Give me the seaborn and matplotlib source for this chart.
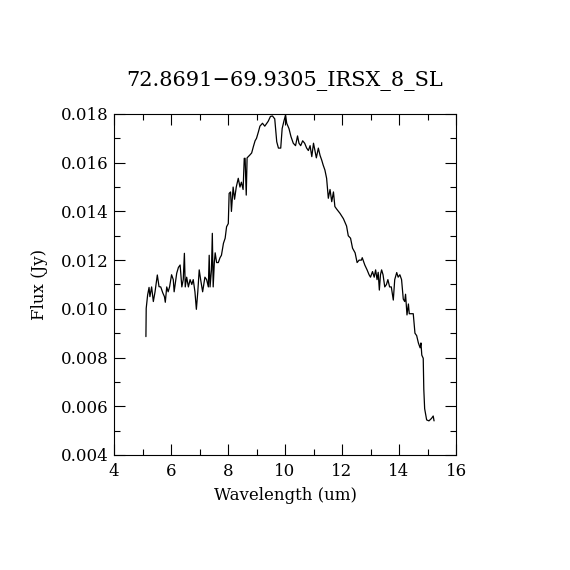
import matplotlib
matplotlib.use("Agg")
import matplotlib.pyplot as plt
import seaborn as sns
import pandas as pd
from matplotlib.ticker import MultipleLocator

# Spectrum
wavelength = [5.12, 5.13, 5.18, 5.23, 5.26, 5.32, 5.38, 5.44, 5.52, 5.58, 5.64, 5.71, 5.77,
              5.80, 5.85, 5.90, 5.95, 6.02, 6.08, 6.11, 6.20, 6.26, 6.32, 6.38, 6.43, 6.47,
              6.50, 6.55, 6.61, 6.67, 6.73, 6.78, 6.84, 6.89, 6.94, 6.99, 7.04, 7.11, 7.19,
              7.25, 7.31, 7.34, 7.37, 7.42, 7.45, 7.48, 7.52, 7.55, 7.60, 7.66, 7.72, 7.77,
              7.84, 7.90, 7.95, 8.01, 8.04, 8.09, 8.12, 8.18, 8.23, 8.29, 8.36, 8.42, 8.47,
              8.53, 8.57, 8.60, 8.64, 8.67, 8.77, 8.83, 8.89, 8.95, 9.00, 9.07, 9.12, 9.21,
              9.29, 9.41, 9.49, 9.56, 9.64, 9.71, 9.77, 9.85, 9.90, 9.96, 10.02, 10.06,
              10.14, 10.21, 10.29, 10.37, 10.44, 10.49, 10.55, 10.62, 10.69, 10.76, 10.82,
              10.88, 10.94, 11.00, 11.05, 11.10, 11.17, 11.23, 11.29, 11.34, 11.40, 11.46,
              11.52, 11.58, 11.64, 11.70, 11.75, 11.81, 11.93, 12.05, 12.16, 12.22, 12.30,
              12.37, 12.46, 12.53, 12.60, 12.68, 12.71, 12.80, 12.88, 12.95, 13.00, 13.07,
              13.13, 13.18, 13.23, 13.27, 13.31, 13.35, 13.39, 13.44, 13.50, 13.56, 13.61,
              13.67, 13.73, 13.80, 13.85, 13.92, 13.97, 14.03, 14.09, 14.15, 14.20, 14.23,
              14.28, 14.33, 14.36, 14.42, 14.50, 14.56, 14.62, 14.68, 14.74, 14.77, 14.80,
              14.85, 14.87, 14.90, 14.97, 15.05, 15.14, 15.20, 15.23]
flux = [0.00886, 0.01002, 0.01057, 0.01088, 0.01050, 0.01090, 0.01030, 0.01070, 0.01139,
        0.01091, 0.01090, 0.01066, 0.01050, 0.01027, 0.01090, 0.01070, 0.01090, 0.01140,
        0.01120, 0.01070, 0.01146, 0.01170, 0.01180, 0.01090, 0.01120, 0.01228, 0.01090,
        0.01130, 0.01090, 0.01120, 0.01100, 0.01120, 0.01070, 0.00998, 0.01070, 0.01160,
        0.01120, 0.01070, 0.01130, 0.01120, 0.01090, 0.01220, 0.01090, 0.01160, 0.01310,
        0.01090, 0.01190, 0.01230, 0.01190, 0.01190, 0.01210, 0.01220, 0.01269, 0.01290,
        0.01337, 0.01350, 0.01474, 0.01480, 0.01400, 0.01500, 0.01450, 0.01500, 0.01536,
        0.01500, 0.01520, 0.01490, 0.01618, 0.01618, 0.01467, 0.01620, 0.01632, 0.01640,
        0.01666, 0.01690, 0.01700, 0.01728, 0.01750, 0.01762, 0.01750, 0.01770, 0.01790,
        0.01792, 0.01780, 0.01686, 0.01660, 0.01660, 0.01740, 0.01770, 0.01796, 0.01762,
        0.01740, 0.01707, 0.01680, 0.01670, 0.01710, 0.01680, 0.01670, 0.01690, 0.01680,
        0.01660, 0.01650, 0.01670, 0.01625, 0.01680, 0.01650, 0.01620, 0.01660, 0.01630,
        0.01610, 0.01590, 0.01570, 0.01536, 0.01454, 0.01490, 0.01440, 0.01480, 0.01420,
        0.01410, 0.01392, 0.01370, 0.01340, 0.01300, 0.01290, 0.01249, 0.01230, 0.01190,
        0.01200, 0.01200, 0.01210, 0.01180, 0.01160, 0.01140, 0.01130, 0.01153, 0.01130,
        0.01160, 0.01120, 0.01150, 0.01077, 0.01140, 0.01160, 0.01140, 0.01090, 0.01100,
        0.01120, 0.01090, 0.01090, 0.01036, 0.01120, 0.01149, 0.01130, 0.01140, 0.01120,
        0.01040, 0.01030, 0.01060, 0.00975, 0.01020, 0.00980, 0.00980, 0.00980, 0.00900,
        0.00890, 0.00860, 0.00840, 0.00860, 0.00810, 0.00797, 0.00670, 0.00590, 0.00544,
        0.00540, 0.00550, 0.00560, 0.00540]

spec = pd.DataFrame({"Wavelength": wavelength, "Flux": flux})

sns.set_theme(style="ticks")
plt.rcParams["font.family"] = ["DejaVu Serif"]

fig = plt.figure(figsize=(5.7, 5.7), dpi=100)
ax = fig.add_axes([0.2, 0.2018, 0.6, 0.5982])

sns.lineplot(data=spec, x="Wavelength", y="Flux", ax=ax, color="black",
             linewidth=0.9, sort=False, estimator=None)

ax.set_xlim(4, 16)
ax.set_ylim(0.004, 0.018)
ax.xaxis.set_major_locator(MultipleLocator(2))
ax.xaxis.set_minor_locator(MultipleLocator(1))
ax.yaxis.set_major_locator(MultipleLocator(0.002))
ax.yaxis.set_minor_locator(MultipleLocator(0.001))
ax.yaxis.set_major_formatter(matplotlib.ticker.FormatStrFormatter("%.3f"))

ax.tick_params(which="both", direction="in", top=True, right=True,
               color="black", width=0.8, labelsize=12, labelcolor="black")
ax.tick_params(axis="x", pad=6)
ax.tick_params(axis="y", pad=4)
ax.tick_params(which="major", length=8)
ax.tick_params(which="minor", length=4)
for s in ax.spines.values():
    s.set_color("black")
    s.set_linewidth(0.8)

ax.set_xlabel("Wavelength (um)", fontsize=12, color="black", labelpad=5)
ax.set_ylabel("Flux (Jy)", fontsize=12, color="black", labelpad=9)
ax.set_title("72.8691\u221269.9305_IRSX_8_SL", fontsize=15, color="black", pad=20)

fig.savefig("out.png", dpi=100, facecolor="white")
plt.close(fig)
